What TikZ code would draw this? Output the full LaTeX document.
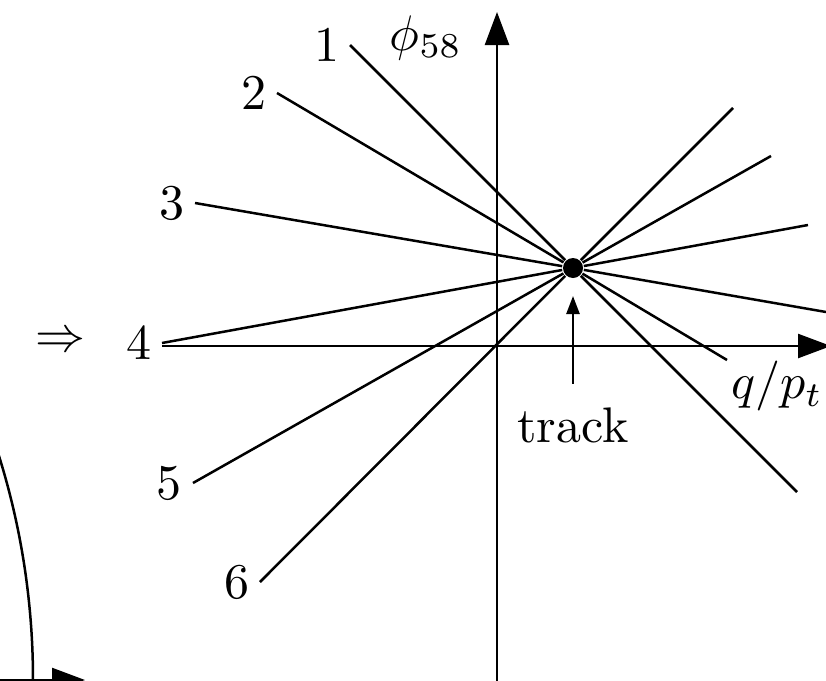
\documentclass[tikz,border=0pt]{standalone}
\usepackage{amsmath}
\usepackage{tikz}
\usetikzlibrary{arrows.meta,positioning}

\begin{document}
\begin{tikzpicture}[x=0.2pt, y=-0.2pt,
  ray/.style={line width=0.5pt},
  axis/.style={-{Triangle[length=6.6pt, width=4.8pt]}, line width=0.5pt},
  tag/.style={inner sep=2pt},
  marker/.style={-{Triangle[length=3.6pt, width=2.6pt]}, line width=0.5pt, shorten >=3.4pt, shorten <=1.2pt}]
  \useasboundingbox (0,0) rectangle (826,680);
  \clip (0,0) rectangle (826,680);
  % neighbouring sketch, cut off at the border
  \draw[ray] (-717,680) circle[radius=750];
  \coordinate (ox) at (-300,680); \coordinate (oxend) at (85,680);
  \draw[axis] (ox) -- (oxend);
  \node (imp) at (60,342) {$\Rightarrow$};
  % axes
  \coordinate (ybot) at (497,700); \coordinate (ytop) at (497,12);
  \coordinate (xleft) at (162,346); \coordinate (xright) at (831,346);
  \draw[axis] (ybot) -- (ytop);
  \draw[axis] (xleft) -- (xright);
  \node (phi) at (426,38) {$\phi_{58}$};
  \node (qpt) at (777,386) {$q/p_t$};
  % track point and the rays through it
  \node[circle, fill, inner sep=0pt, minimum size=4pt] (t) at (573,268) {};
  \coordinate (s1) at (350,45);  \coordinate (e1) at (797,492);
  \coordinate (s2) at (277,93);  \coordinate (e2) at (727,360);
  \coordinate (s3) at (195,203); \coordinate (e3) at (826,312);
  \coordinate (s4) at (162,343); \coordinate (e4) at (808,225);
  \coordinate (s5) at (193,483); \coordinate (e5) at (771,156);
  \coordinate (s6) at (260,582); \coordinate (e6) at (733,108);
  \node[tag, left=0pt of s1] (n1) {1};
  \node[tag, left=0pt of s2] (n2) {2};
  \node[tag, left=0pt of s3] (n3) {3};
  \node[tag, left=0pt of s4] (n4) {4};
  \node[tag, left=0pt of s5] (n5) {5};
  \node[tag, left=0pt of s6] (n6) {6};
  \draw[ray] (s1) -- (t) -- (e1); \draw[ray] (s2) -- (t) -- (e2); \draw[ray] (s3) -- (t) -- (e3);
  \draw[ray] (s4) -- (t) -- (e4); \draw[ray] (s5) -- (t) -- (e5); \draw[ray] (s6) -- (t) -- (e6);
  \node (trk) at (573,425) {track};
  \draw[marker] (trk) -- (t);
\end{tikzpicture}
\end{document}
